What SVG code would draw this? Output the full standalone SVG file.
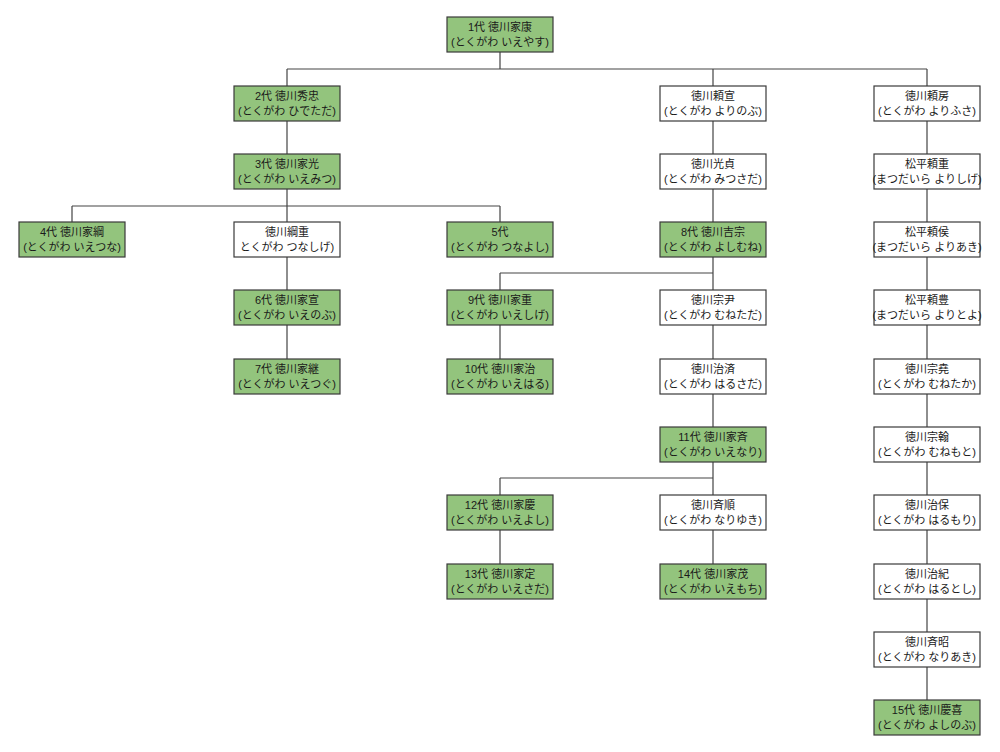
<svg xmlns="http://www.w3.org/2000/svg" width="1000" height="752" viewBox="0 0 1000 752">
<style>
.n rect{stroke:#3a3a3a;stroke-width:1.2}
.g rect{fill:#93c47d}
.w rect{fill:#ffffff}
.n text{font-family:"Liberation Sans","Noto Sans CJK JP",sans-serif;font-size:11px;fill:#1a1a1a;text-anchor:middle}
.c path{fill:none;stroke:#444;stroke-width:1.2}
</style>
<rect width="1000" height="752" fill="#ffffff"/>
<g class="c" id="connectors">
<path d="M500,52V69M287,69H927M287,69V86M713,69V86M927,69V86"/>
<path d="M287,121V154"/>
<path d="M287,189V206M72,206H500M72,206V222M287,206V222M500,206V222"/>
<path d="M287,257V290M287,325V359"/>
<path d="M713,121V154M713,189V222"/>
<path d="M713,257V273M500,273H713M500,273V290M713,273V290"/>
<path d="M500,325V359"/>
<path d="M713,325V359M713,394V427"/>
<path d="M713,462V478M500,478H713M500,478V495M713,478V495"/>
<path d="M500,530V564M713,530V564"/>
<path d="M927,121V154M927,189V222M927,257V290M927,325V359M927,394V427M927,462V495M927,530V564M927,598V632M927,667V700"/>
</g>
<g id="n1" class="n g"><rect x="447" y="17" width="106" height="35"/><text x="500" y="31">1代 徳川家康</text><text x="500" y="46">(とくがわ いえやす)</text></g>
<g id="n2" class="n g"><rect x="234" y="86" width="106" height="35"/><text x="287" y="100">2代 徳川秀忠</text><text x="287" y="115">(とくがわ ひでただ)</text></g>
<g id="n3" class="n g"><rect x="234" y="154" width="106" height="35"/><text x="287" y="168">3代 徳川家光</text><text x="287" y="183">(とくがわ いえみつ)</text></g>
<g id="n4" class="n g"><rect x="19" y="222" width="106" height="35"/><text x="72" y="236">4代 徳川家綱</text><text x="72" y="251">(とくがわ いえつな)</text></g>
<g id="tsunashige" class="n w"><rect x="234" y="222" width="106" height="35"/><text x="287" y="236">徳川綱重</text><text x="287" y="251">とくがわ つなしげ)</text></g>
<g id="n5" class="n g"><rect x="447" y="222" width="106" height="35"/><text x="500" y="236">5代</text><text x="500" y="251">(とくがわ つなよし)</text></g>
<g id="n6" class="n g"><rect x="234" y="290" width="106" height="35"/><text x="287" y="304">6代 徳川家宣</text><text x="287" y="319">(とくがわ いえのぶ)</text></g>
<g id="n7" class="n g"><rect x="234" y="359" width="106" height="35"/><text x="287" y="373">7代 徳川家継</text><text x="287" y="388">(とくがわ いえつぐ)</text></g>
<g id="yorinobu" class="n w"><rect x="660" y="86" width="106" height="35"/><text x="713" y="100">徳川頼宣</text><text x="713" y="115">(とくがわ よりのぶ)</text></g>
<g id="mitsusada" class="n w"><rect x="660" y="154" width="106" height="35"/><text x="713" y="168">徳川光貞</text><text x="713" y="183">(とくがわ みつさだ)</text></g>
<g id="n8" class="n g"><rect x="660" y="222" width="106" height="35"/><text x="713" y="236">8代 徳川吉宗</text><text x="713" y="251">(とくがわ よしむね)</text></g>
<g id="n9" class="n g"><rect x="447" y="290" width="106" height="35"/><text x="500" y="304">9代 徳川家重</text><text x="500" y="319">(とくがわ いえしげ)</text></g>
<g id="n10" class="n g"><rect x="447" y="359" width="106" height="35"/><text x="500" y="373">10代 徳川家治</text><text x="500" y="388">(とくがわ いえはる)</text></g>
<g id="munetada" class="n w"><rect x="660" y="290" width="106" height="35"/><text x="713" y="304">徳川宗尹</text><text x="713" y="319">(とくがわ むねただ)</text></g>
<g id="harusada" class="n w"><rect x="660" y="359" width="106" height="35"/><text x="713" y="373">徳川治済</text><text x="713" y="388">(とくがわ はるさだ)</text></g>
<g id="n11" class="n g"><rect x="660" y="427" width="106" height="35"/><text x="713" y="441">11代 徳川家斉</text><text x="713" y="456">(とくがわ いえなり)</text></g>
<g id="n12" class="n g"><rect x="447" y="495" width="106" height="35"/><text x="500" y="509">12代 徳川家慶</text><text x="500" y="524">(とくがわ いえよし)</text></g>
<g id="n13" class="n g"><rect x="447" y="564" width="106" height="35"/><text x="500" y="578">13代 徳川家定</text><text x="500" y="593">(とくがわ いえさだ)</text></g>
<g id="nariyuki" class="n w"><rect x="660" y="495" width="106" height="35"/><text x="713" y="509">徳川斉順</text><text x="713" y="524">(とくがわ なりゆき)</text></g>
<g id="n14" class="n g"><rect x="660" y="564" width="106" height="35"/><text x="713" y="578">14代 徳川家茂</text><text x="713" y="593">(とくがわ いえもち)</text></g>
<g id="yorifusa" class="n w"><rect x="874" y="86" width="106" height="35"/><text x="927" y="100">徳川頼房</text><text x="927" y="115">(とくがわ よりふさ)</text></g>
<g id="yorishige" class="n w"><rect x="874" y="154" width="106" height="35"/><text x="927" y="168">松平頼重</text><text x="927" y="183">(まつだいら よりしげ)</text></g>
<g id="yoritoshi" class="n w"><rect x="874" y="222" width="106" height="35"/><text x="927" y="236">松平頼侯</text><text x="927" y="251">(まつだいら よりあき)</text></g>
<g id="yoritoyo" class="n w"><rect x="874" y="290" width="106" height="35"/><text x="927" y="304">松平頼豊</text><text x="927" y="319">(まつだいら よりとよ)</text></g>
<g id="munetaka" class="n w"><rect x="874" y="359" width="106" height="35"/><text x="927" y="373">徳川宗堯</text><text x="927" y="388">(とくがわ むねたか)</text></g>
<g id="munemoto" class="n w"><rect x="874" y="427" width="106" height="35"/><text x="927" y="441">徳川宗翰</text><text x="927" y="456">(とくがわ むねもと)</text></g>
<g id="harumori" class="n w"><rect x="874" y="495" width="106" height="35"/><text x="927" y="509">徳川治保</text><text x="927" y="524">(とくがわ はるもり)</text></g>
<g id="harutoshi" class="n w"><rect x="874" y="564" width="106" height="35"/><text x="927" y="578">徳川治紀</text><text x="927" y="593">(とくがわ はるとし)</text></g>
<g id="nariaki" class="n w"><rect x="874" y="632" width="106" height="35"/><text x="927" y="646">徳川斉昭</text><text x="927" y="661">(とくがわ なりあき)</text></g>
<g id="n15" class="n g"><rect x="874" y="700" width="106" height="35"/><text x="927" y="714">15代 徳川慶喜</text><text x="927" y="729">(とくがわ よしのぶ)</text></g>
</svg>
